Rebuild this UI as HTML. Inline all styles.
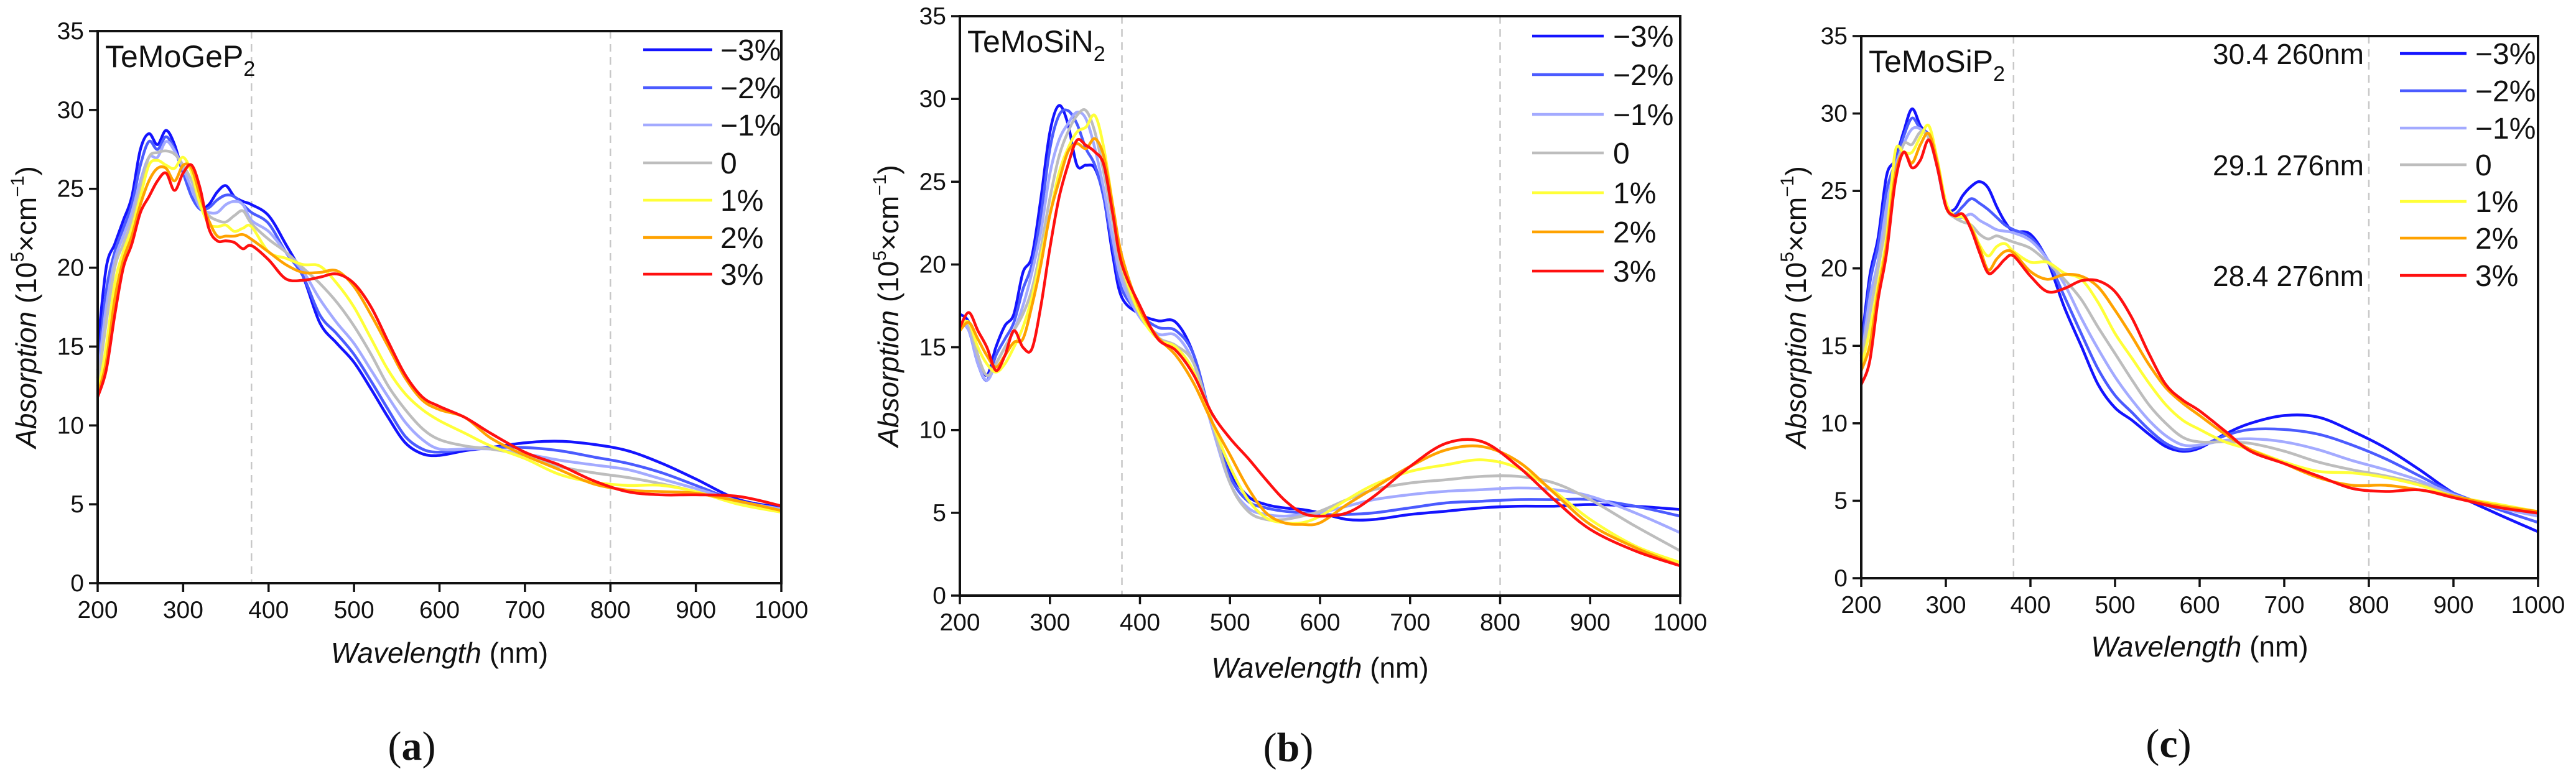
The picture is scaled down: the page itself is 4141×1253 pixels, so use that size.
<!DOCTYPE html>
<html><head><meta charset="utf-8">
<style>
html,body{margin:0;padding:0;background:#fff;}
svg{display:block;font-family:"Liberation Sans",sans-serif;}
</style></head>
<body>
<svg id="fig" width="4141" height="1253" viewBox="0 0 4141 1253" xmlns="http://www.w3.org/2000/svg"></svg>
<script>
// ---- data ----
const wavelengths=[200,210,220,230,240,250,260,270,280,290,300,310,320,330,340,350,360,370,380,400,420,440,460,480,500,520,540,560,580,600,630,660,700,740,780,820,860,900,950,1000];
const strainLabels=["\u22123%","\u22122%","\u22121%","0","1%","2%","3%"];
const xTicks=[200,300,400,500,600,700,800,900,1000];
const yTicks=[0,5,10,15,20,25,30,35];
const guideLines=[380,800];

const aM3=[15,20,21.5,23,24.5,27.5,28.5,27.8,28.7,27.8,26,25,23.8,24,24.8,25.2,24.5,24.2,24,23.3,21.5,19.5,16.5,15.2,14,12.3,10.5,8.9,8.2,8.1,8.4,8.6,8.9,9.0,8.8,8.4,7.6,6.6,5.3,4.8];
const aM2=[13.5,18.5,21,22.5,24,26.5,28,27.5,28.3,27.5,26,24.5,23.7,23.8,24.3,24.6,24.5,24,23.5,22.8,21,19.5,17,15.8,14.5,12.8,11,9.3,8.5,8.3,8.5,8.6,8.6,8.4,8.0,7.6,7.0,6.2,5.2,4.7];
const aM1=[13,17.5,20.5,22,23.5,25.5,27,27,28,27.4,26.3,25,23.8,23.5,23.5,24,24.2,24,23,22.3,21,19.8,18,16.5,15.2,13.5,11.8,10.2,9.1,8.5,8.5,8.5,8.2,7.8,7.5,7.2,6.6,6.0,5.2,4.7];
const a0=[12.5,16.5,20,21.5,23,25,27,27.3,27.4,27.2,26.5,25.5,24,23.3,23,22.9,23.3,23.6,22.8,21.8,21,20,19,17.8,16.3,14.5,12.5,11,9.8,9.1,8.7,8.5,8.1,7.4,7.0,6.7,6.3,5.8,5.1,4.6];
const aP1=[12,15,19,21,22.5,24.5,26.5,26.8,26.5,26.3,27,26,24,22.8,22.6,22.7,22.3,22.5,22.6,21,20.6,20.2,20.1,19,17.5,15.5,13.5,12,11,10.3,9.5,8.7,7.9,6.9,6.4,6.2,6.2,5.8,5,4.5];
const aP2=[12,14,18,20.5,22,24,25.5,26.3,26.3,25.5,26.5,26.3,24.5,23,22,22,22,22.1,21.8,21,20.2,19.7,19.7,19.8,18.8,17,15,13,11.6,11,10.5,9.2,8.1,7.2,6.3,5.9,5.8,5.7,5.2,4.6];
const aP3=[11.8,13.5,17,20,21.5,23.5,24.5,25.5,26,24.9,26,26.5,25,22.5,21.7,21.7,21.6,21.2,21.4,20.5,19.3,19.2,19.4,19.6,19,17.5,15.3,13.2,11.8,11.2,10.5,9.5,8.3,7.5,6.5,5.8,5.6,5.6,5.5,4.9];

const bM3=[17,16.5,14.5,13.3,15,16.3,17,19.5,20.5,24,28,29.6,28.5,26,26,25.8,24,20.5,18,17,16.6,16.5,14.5,10.5,7.5,6,5.5,5.3,5.2,5.0,4.6,4.6,4.9,5.1,5.3,5.4,5.4,5.5,5.4,5.2];
const bM2=[16.5,16,14,13,14.5,15.5,16.5,18.5,20,23,27,29,29.3,28.5,27,26,24,21,18.5,17,16.2,16,14.5,10.5,7.2,5.7,5.3,5.1,5.0,4.9,4.9,5.0,5.3,5.6,5.7,5.8,5.8,5.8,5.4,4.8];
const bM1=[16.5,16,14,13,14,15,16,17.5,19.5,22,25.5,27.5,28.5,29.2,28.8,27,24.5,21.5,19,16.8,15.8,15.7,14,10.2,6.8,5.3,4.9,4.8,4.9,5.0,5.4,5.8,6.1,6.3,6.4,6.5,6.4,6.0,5.0,3.8];
const b0=[16.5,16.3,14.5,13.3,14,15,16,17,18.5,21,24,26.5,28,29,29.3,28,25.5,22.5,19.5,17,15.6,15.1,14,10.5,6.8,5.1,4.6,4.6,4.8,5.1,5.8,6.4,6.8,7.0,7.2,7.2,6.8,5.8,4.2,2.7];
const bP1=[16.3,16.5,15,14,13.5,14,15,16.2,18,20.5,23,25.5,27,28,28.3,29,27,23.5,20,17,15.5,15,13.5,10.5,7.8,5.8,4.7,4.4,4.4,4.8,5.8,6.7,7.5,7.9,8.2,7.7,6.3,4.6,3.0,2.0];
const bP2=[16,16.5,15.5,14.5,13.8,14.5,15.3,15.5,17.5,20,23,25,26.8,27.3,27,27.6,26.5,23.5,20.5,17.3,15.6,14.5,12.8,10.5,8.5,6.5,5,4.4,4.3,4.4,5.5,6.5,7.8,8.8,9.0,8.1,6.2,4.3,2.9,1.8];
const bP3=[16.2,17.1,16,15,13.6,14.5,16,15,14.9,17.5,21,24,26,27.5,27.2,26.8,26,23,20,17.5,15.5,14.8,13.3,11,9.5,8.3,7.0,5.8,5.0,4.8,5,6,7.8,9.2,9.3,7.8,5.8,4.0,2.7,1.8];

const cM3=[15,19.5,22,26,27,28.8,30.3,29.2,28.5,26.5,24,23.8,24.7,25.3,25.6,25.2,24,23,22.4,22.2,20.5,17.5,15,12.5,11,10.2,9.3,8.5,8.2,8.4,9.3,10,10.5,10.4,9.5,8.4,7,5.5,4.2,3.0];
const cM2=[14.5,19,21.5,25,26.8,28.5,29.7,29,28.6,26.8,24,23.5,24,24.5,24.2,23.8,23.3,22.8,22.5,22,20.6,18.2,15.8,13.5,11.8,10.7,9.6,8.7,8.3,8.5,9.2,9.6,9.6,9.3,8.6,7.7,6.6,5.5,4.5,3.6];
const cM1=[14,18,20.5,24,26.5,28,29,29,28.4,26.7,24,23.3,23.3,23.5,23.1,22.8,22.5,22.4,22.3,21.8,20.6,19,16.8,14.8,13,11.5,10.2,9.2,8.6,8.6,8.9,9,8.8,8.3,7.6,7,6.3,5.4,4.6,4.0];
const c0=[13.8,17,20,23,26,28,28,28.8,28.4,26.5,24,23.3,23,22.8,22.2,21.9,22.1,21.9,21.7,21.3,20.4,19.3,18,16.2,14.5,12.8,11.2,10,9.1,8.8,8.8,8.7,8.2,7.5,7.0,6.6,6.1,5.3,4.7,4.3];
const cP1=[13.6,16,19,22,27.5,27.5,27.5,28.5,29.2,27,24.3,23.4,23.3,22.7,21.5,20.8,21.4,21.6,21.1,20.4,20.4,19.7,19.3,17.8,15.8,14.2,12.6,11.2,10.2,9.6,8.8,8.3,7.5,6.9,6.8,6.5,6,5.3,4.8,4.3];
const cP2=[13.4,15,18.5,21.5,26,27.5,26.8,28,28.7,26.8,24,23.4,23.5,22.6,21.3,19.9,20.6,21.1,21,19.8,19.3,19.6,19.5,18.8,17.3,15.6,13.8,12.3,11.3,10.5,9.3,8.3,7.4,6.5,6.0,6.0,5.7,5.3,4.7,4.3];
const cP3=[12.5,14,18,21,25.5,27.5,26.5,27,28.3,26.5,24,23.4,23.5,22.5,21,19.7,20,20.6,20.8,19.5,18.5,18.7,19.2,19.2,18.5,16.8,14.5,12.5,11.5,10.8,9.5,8.2,7.4,6.6,5.8,5.6,5.7,5.2,4.6,4.2];

const annotations=["30.4 260nm","29.1 276nm","28.4 276nm"];
const colors=["#1414ff","#4b5bff","#a3aaff","#bdbdbd","#ffff38","#ffa200","#ff1010"];

const panels=[
 {id:"a",title:"TeMoGeP",sub:"2",series:[aM3,aM2,aM1,a0,aP1,aP2,aP3],x0:157,x1:1256,y0:938,y1:50,ytitleX:46,xtitleY:1066,lblX:662,lblY:1222,
  legLine:[1034,1145],legText:1158,legY:[80,141,201,262,322,382,441],ann:null},
 {id:"b",title:"TeMoSiN",sub:"2",series:[bM3,bM2,bM1,b0,bP1,bP2,bP3],x0:1543,x1:2701,y0:958,y1:26,ytitleX:1432,xtitleY:1090,lblX:2071,lblY:1224,
  legLine:[2463,2578],legText:2593,legY:[58,120,184,246,310,373,436],ann:null},
 {id:"c",title:"TeMoSiP",sub:"2",series:[cM3,cM2,cM1,c0,cP1,cP2,cP3],x0:2992,x1:4080,y0:930,y1:58,ytitleX:2891,xtitleY:1056,lblX:3486,lblY:1218,
  legLine:[3858,3965],legText:3979,legY:[86,146,206,265,324,383,443],ann:{x:3800,rows:[0,3,6]}}
];

const NS="http://www.w3.org/2000/svg";
const svg=document.getElementById("fig");
function mk(tag,attrs,parent){const e=document.createElementNS(NS,tag);for(const k in attrs)e.setAttribute(k,attrs[k]);(parent||svg).appendChild(e);return e;}

function smoothPath(pts){
  let d="M"+pts[0][0].toFixed(1)+","+pts[0][1].toFixed(1);
  for(let i=0;i<pts.length-1;i++){
    const p0=pts[i-1]||pts[i],p1=pts[i],p2=pts[i+1],p3=pts[i+2]||p2;
    const c1=[p1[0]+(p2[0]-p0[0])/6,p1[1]+(p2[1]-p0[1])/6];
    const c2=[p2[0]-(p3[0]-p1[0])/6,p2[1]-(p3[1]-p1[1])/6];
    d+="C"+c1[0].toFixed(1)+","+c1[1].toFixed(1)+" "+c2[0].toFixed(1)+","+c2[1].toFixed(1)+" "+p2[0].toFixed(1)+","+p2[1].toFixed(1);
  }
  return d;
}

panels.forEach(p=>{
  const g=mk("g",{});
  
  
  const xs=v=>p.x0+(v-200)/800*(p.x1-p.x0);
  const ys=v=>p.y0-(v/35)*(p.y0-p.y1);
  guideLines.forEach(w=>{
    const l=mk("line",{x1:xs(w),x2:xs(w),y1:p.y1,y2:p.y0,stroke:"#c8c8c8","stroke-width":2.5,"stroke-dasharray":"12,9"},g);
    
    
  });
  p.series.forEach((s,i)=>{
    const pts=s.map((v,j)=>[xs(wavelengths[j]),ys(v)]);
    const path=mk("path",{d:smoothPath(pts),fill:"none",stroke:colors[i],"stroke-width":4.5,"stroke-linejoin":"round"},g);
    
    
  });
  const fr=mk("rect",{x:p.x0,y:p.y1,width:p.x1-p.x0,height:p.y0-p.y1,fill:"none",stroke:"#111","stroke-width":4},g);
  
  
  xTicks.forEach(t=>{
    mk("line",{x1:xs(t),x2:xs(t),y1:p.y0,y2:p.y0+14,stroke:"#111","stroke-width":3.5},g);
    const tx=mk("text",{x:xs(t),y:p.y0+56,"font-size":39,"text-anchor":"middle",fill:"#111"},g);
    tx.textContent=t;
    
    
  });
  yTicks.forEach(t=>{
    mk("line",{x1:p.x0-14,x2:p.x0,y1:ys(t),y2:ys(t),stroke:"#111","stroke-width":3.5},g);
    const tx=mk("text",{x:p.x0-22,y:ys(t)+13,"font-size":39,"text-anchor":"end",fill:"#111"},g);
    tx.textContent=t;
    
    
  });
  const title=mk("text",{x:p.x0+12,y:p.y1+58,"font-size":50,fill:"#111"},g);
  title.innerHTML=p.title+'<tspan font-size="34" dy="14">'+p.sub+'</tspan>';
  
  
  const xt=mk("text",{x:(p.x0+p.x1)/2,y:p.xtitleY,"font-size":46,"text-anchor":"middle",fill:"#111"},g);
  xt.innerHTML='<tspan font-style="italic">Wavelength</tspan> (nm)';
  
  
  const cy=(p.y0+p.y1)/2;
  const yt=mk("text",{x:p.ytitleX,y:cy,"font-size":46,"text-anchor":"middle",fill:"#111",transform:"rotate(-90 "+p.ytitleX+" "+cy+")","dominant-baseline":"middle"},g);
  yt.innerHTML='<tspan font-style="italic">Absorption</tspan> (10<tspan font-size="30" dy="-16">5</tspan><tspan dy="16">×cm</tspan><tspan font-size="30" dy="-16">−1</tspan><tspan dy="16">)</tspan>';
  
  
  strainLabels.forEach((lab,i)=>{
    const y=p.legY[i];
    const ln=mk("line",{x1:p.legLine[0],x2:p.legLine[1],y1:y,y2:y,stroke:colors[i],"stroke-width":4.5},g);
    
    
    const tx=mk("text",{x:p.legText,y:y+17,"font-size":48,fill:"#111"},g);
    tx.textContent=lab;
    
    
  });
  if(p.ann){
    p.ann.rows.forEach((r,k)=>{
      const tx=mk("text",{x:p.ann.x,y:p.legY[r]+17,"font-size":46,"text-anchor":"end",fill:"#111"},g);
      tx.textContent=annotations[k];
      
      
    });
  }
  const pl=mk("text",{x:p.lblX,y:p.lblY,"font-size":66,"text-anchor":"middle",fill:"#111","font-family":"Liberation Serif, serif"},g);
  pl.innerHTML='(<tspan font-weight="bold">'+p.id+'</tspan>)';
  
  
});
</script>
</body></html>
